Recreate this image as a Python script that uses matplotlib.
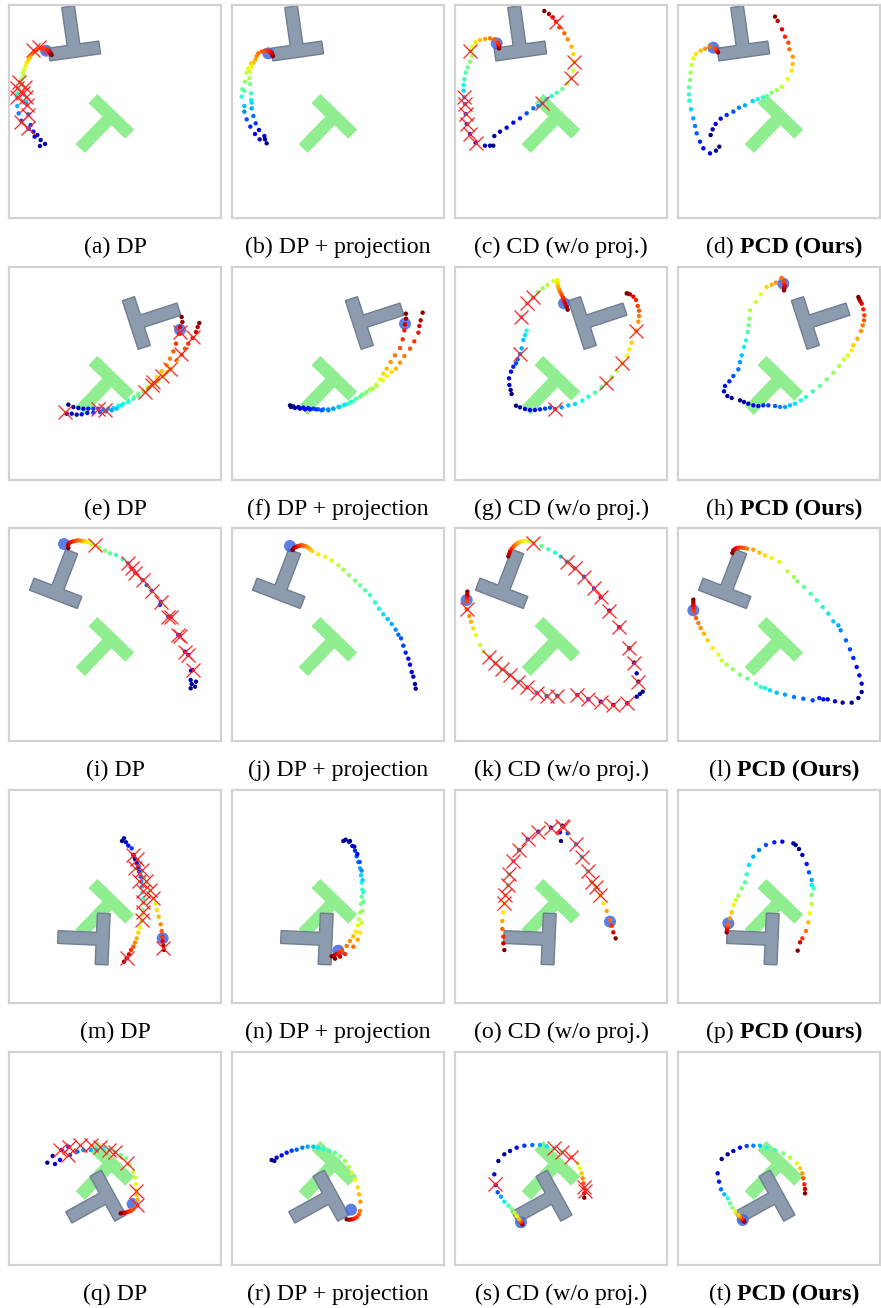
import numpy as np
import matplotlib
matplotlib.use('Agg')
import matplotlib.pyplot as plt
from matplotlib.patches import Polygon, Circle

# all coordinates are in panel units (3 units per output pixel), y pointing down
# T block poses: (centre of the bar x, y, direction of the stem in degrees)
green_pose = (307, 334, 134)
gray_poses = [(196, 138, 262), (382, 168, -18), (140, 196, -69), (281, 447, 182.5), (297, 431, 151)]

methods = ['DP', 'DP + projection', 'CD (w/o proj.)', 'PCD (Ours)']
letters = 'abcdefghijklmnopqrst'

# each path is a list of (colour at start, colour at end, points); colour 1 = dark red, 0 = dark blue
a_agent = (111, 137)
a_path = [(1.0, 0.0, [(128, 150), (125, 145), (122, 142), (119, 139), (116, 136), (113, 133), (103, 129), (93, 130),
                      (83, 135), (75, 141), (68, 148), (63, 157), (58, 165), (53, 173), (50, 183), (46, 193),
                      (41, 203), (45, 213), (37, 223), (33, 233), (41, 241), (28, 251), (48, 253), (25, 265),
                      (46, 270), (23, 275), (51, 290), (25, 303), (53, 298), (29, 325), (58, 328), (37, 347),
                      (65, 360), (59, 371), (73, 380), (77, 395), (85, 390), (95, 405), (108, 417), (93, 423)])]
a_cross = [(73, 135), (91, 125), (31, 230), (48, 247), (23, 250), (41, 263), (23, 275), (51, 275), (55, 300),
           (58, 330), (35, 350), (58, 370)]

b_agent = (109, 145)
b_path = [(1.0, 0.0, [(123, 153), (121, 150), (119, 146), (117, 143), (113, 140), (109, 137), (99, 137), (89, 140),
                      (79, 145), (74, 153), (71, 163), (64, 173), (57, 175), (59, 185), (49, 190), (54, 200),
                      (44, 203), (52, 220), (39, 230), (54, 237), (31, 253), (37, 257), (57, 265), (29, 275),
                      (57, 285), (59, 293), (37, 303), (59, 310), (37, 320), (64, 333), (44, 343), (71, 355),
                      (55, 365), (81, 375), (69, 387), (97, 393), (83, 403), (99, 403), (104, 415)])]
b_cross = []

c_agent = (125, 115)
c_path = [(1.0, 0.0, [(132, 130), (132, 126), (131, 122), (130, 117), (128, 113), (118, 103), (105, 100), (90, 102),
                      (75, 105), (62, 112), (52, 125), (48, 137), (52, 153), (45, 170), (38, 187), (32, 203),
                      (28, 223), (26, 240), (26, 257), (28, 277), (30, 297), (32, 327), (35, 357), (45, 387),
                      (62, 413), (90, 422), (105, 422), (115, 422)]),
          (0.0, 1.0, [(118, 393), (135, 380), (155, 368), (175, 353), (195, 340), (215, 325), (235, 310), (250, 303),
                      (262, 295), (275, 282), (290, 273), (305, 263), (322, 252), (338, 235), (348, 218), (355, 197),
                      (358, 170), (355, 147), (350, 125), (338, 103), (328, 85), (313, 67), (303, 50), (293, 37),
                      (282, 27), (268, 18)])]
c_cross = [(45, 137), (28, 277), (30, 297), (32, 327), (35, 357), (45, 387), (62, 413), (262, 295), (348, 218),
           (358, 170), (303, 50)]

d_agent = (106, 128)
d_path = [(1.0, 0.0, [(120, 142), (118, 138), (116, 135), (113, 132), (111, 130), (96, 125), (81, 131), (68, 137),
                      (54, 147), (46, 160), (41, 180), (38, 203), (36, 225), (33, 247), (33, 268), (34, 287),
                      (39, 313), (46, 340), (51, 363), (56, 385), (66, 410), (76, 430), (96, 445), (114, 437),
                      (124, 425)]),
          (0.0, 1.0, [(98, 390), (104, 373), (113, 357), (128, 341), (146, 330), (166, 320), (183, 308), (201, 301),
                      (224, 288), (239, 282), (254, 277), (266, 273), (281, 263), (296, 255), (311, 245), (329, 222),
                      (341, 197), (344, 177), (344, 155), (334, 133), (331, 113), (321, 95), (312, 73), (299, 48),
                      (291, 35)])]
d_cross = []

e_agent = (513, 188)
e_path = [(1.0, 0.0, [(518, 150), (520, 165), (513, 180), (511, 200), (501, 230), (493, 253), (483, 275), (473, 295),
                      (458, 313), (443, 330), (428, 347), (415, 360), (403, 370), (388, 380), (375, 390), (358, 400),
                      (343, 410), (328, 417), (313, 423), (298, 425), (283, 427), (268, 425), (253, 425), (238, 425),
                      (223, 425), (208, 423), (193, 420), (178, 413)]),
          (1.0, 0.0, [(571, 168), (566, 180), (561, 195), (551, 213), (538, 230), (528, 245), (518, 263), (503, 280),
                      (485, 305), (473, 315), (461, 327), (448, 343), (433, 353), (418, 365), (405, 375), (388, 387),
                      (373, 395), (358, 405), (338, 415), (323, 425), (308, 430), (291, 433), (273, 435), (253, 437),
                      (235, 438), (218, 442), (203, 443), (188, 440), (173, 440)])]
e_cross = [(513, 195), (551, 210), (515, 262), (483, 305), (460, 327), (433, 345), (428, 353), (408, 375), (288, 428),
           (266, 425), (168, 435)]

f_agent = (519, 170)
f_path = [(1.0, 0.0, [(522, 140), (522, 155), (519, 172), (517, 190), (512, 217), (504, 243), (489, 265), (476, 285),
                      (464, 305), (454, 320), (444, 337), (432, 353), (414, 367), (399, 380), (384, 390), (364, 403),
                      (349, 410), (334, 415), (319, 420), (304, 425), (289, 427), (274, 427), (259, 427), (244, 425),
                      (229, 423), (214, 422), (199, 420), (184, 418), (174, 415)]),
          (1.0, 0.0, [(572, 137), (566, 160), (562, 177), (559, 197), (547, 223), (534, 245), (517, 267), (504, 287),
                      (492, 305), (479, 315), (464, 327), (452, 340), (434, 357), (422, 365), (404, 375), (389, 383),
                      (372, 395), (356, 405), (339, 413), (322, 420), (304, 425), (289, 430), (269, 430), (252, 427),
                      (234, 427), (219, 427), (204, 425), (189, 423), (177, 420)])]
f_cross = []

g_agent = (327, 109)
g_path = [(1.0, 0.0, [(338, 128), (335, 119), (331, 110), (327, 101), (324, 92), (320, 84), (316, 76), (313, 69),
                      (310, 61), (308, 54), (307, 46), (307, 39), (295, 42), (277, 54), (263, 64), (248, 76),
                      (233, 91), (215, 109), (198, 149), (215, 191), (210, 204), (205, 219), (200, 244), (195, 261),
                      (188, 277), (183, 289), (175, 299), (168, 314), (162, 334), (163, 354), (167, 369), (170, 381)]),
          (0.0, 1.0, [(183, 416), (195, 421), (210, 426), (225, 429), (240, 429), (255, 427), (270, 425), (285, 422),
                      (300, 426), (320, 421), (340, 415), (360, 411), (382, 401), (400, 389), (420, 377), (440, 361),
                      (453, 349), (470, 331), (485, 311), (502, 289), (515, 266), (523, 247), (530, 227), (543, 191),
                      (550, 164), (552, 147), (552, 131), (548, 117), (543, 99), (535, 89), (525, 82), (520, 80),
                      (515, 79)])]
g_cross = [(233, 91), (215, 109), (198, 149), (195, 261), (300, 426), (453, 349), (502, 289), (543, 191)]

h_agent = (316, 50)
h_path = [(1.0, 0.0, [(318, 70), (319, 63), (320, 57), (319, 50), (318, 43), (311, 33), (294, 47), (281, 53),
                      (266, 60), (248, 82), (234, 105), (216, 130), (214, 155), (212, 175), (209, 195), (204, 220),
                      (198, 240), (191, 265), (186, 285), (181, 307), (166, 327), (154, 343), (141, 357), (138, 373),
                      (148, 387), (161, 393)]),
          (0.0, 1.0, [(186, 400), (198, 405), (211, 410), (226, 415), (241, 417), (256, 415), (271, 415), (291, 417),
                      (306, 420), (321, 420), (336, 415), (351, 410), (368, 400), (384, 390), (404, 373), (426, 357),
                      (446, 337), (466, 317), (483, 297), (498, 277), (509, 265), (521, 250), (526, 235), (538, 215),
                      (549, 192), (554, 175), (558, 160), (559, 145), (556, 127), (551, 110), (547, 103), (544, 97),
                      (541, 90)])]
h_cross = []

i_agent = (165, 48)
i_path = [(1.0, 0.4, [(178, 60), (177, 52), (180, 46), (186, 42), (193, 40), (201, 38), (208, 37), (215, 38),
                      (222, 39), (228, 40), (235, 42), (241, 44), (247, 47), (253, 51), (271, 59), (288, 68),
                      (303, 76), (321, 81), (341, 94)]),
          (0.3, 0.0, [(358, 106), (368, 121), (378, 134), (401, 156), (413, 171), (428, 188), (455, 221), (453, 231),
                      (478, 266), (485, 266), (508, 321), (513, 324), (528, 371), (538, 381), (551, 426), (546, 428),
                      (545, 456), (561, 461), (548, 468), (558, 476), (545, 481)])]
i_cross = [(258, 51), (358, 106), (368, 121), (378, 134), (401, 156), (428, 188), (455, 221), (478, 266), (485, 266),
           (508, 321), (513, 324), (528, 371), (538, 381), (551, 426)]

j_agent = (174, 54)
j_path = [(1.0, 0.0, [(182, 66), (186, 60), (190, 58), (194, 56), (199, 54), (204, 53), (209, 52), (214, 53),
                      (219, 54), (224, 56), (230, 60), (235, 64), (241, 69), (259, 79), (279, 86), (299, 97),
                      (319, 112), (334, 125), (351, 141), (369, 158), (384, 172), (399, 187), (414, 201), (429, 223),
                      (441, 242), (454, 259), (467, 273), (479, 288), (491, 305), (499, 320), (507, 331), (514, 353),
                      (521, 374), (529, 392), (534, 410), (539, 432), (544, 446), (549, 468), (551, 482)])]
j_cross = []

k_agent = (35, 216)
k_path = [(1.0, 0.55, [(37, 191), (37, 198), (37, 206), (36, 213), (35, 221), (35, 244), (43, 264), (48, 281),
                       (55, 301), (63, 321), (75, 351), (87, 371)]),
          (0.45, 0.0, [(103, 386), (120, 404), (140, 424), (165, 441), (190, 461), (217, 478), (245, 494), (275, 504),
                       (307, 504), (367, 501), (400, 514), (437, 521), (475, 531), (517, 526), (545, 506), (555, 498),
                       (563, 491)]),
          (1.0, 0.35, [(160, 85), (163, 77), (165, 70), (170, 62), (176, 55), (182, 50), (188, 45), (195, 41),
                       (205, 39), (217, 38), (226, 40), (235, 44), (260, 54), (280, 64), (300, 74), (317, 86)]),
          (0.3, 0.0, [(335, 101), (360, 121), (387, 146), (417, 181), (437, 208), (463, 248), (493, 298), (523, 361),
                      (537, 404), (545, 436), (550, 461)])]
k_cross = [(35, 244), (103, 386), (120, 404), (140, 424), (165, 441), (190, 461), (217, 478), (245, 494), (275, 504),
           (307, 504), (367, 501), (400, 514), (437, 521), (475, 531), (517, 526), (550, 461), (537, 404), (523, 361),
           (493, 298), (463, 248), (437, 208), (417, 181), (387, 146), (360, 121), (335, 101), (235, 44)]

l_agent = (46, 247)
l_path = [(1.0, 0.0, [(46, 215), (46, 222), (46, 228), (46, 234), (47, 242), (48, 250), (54, 270), (61, 285),
                      (68, 300), (78, 317), (89, 337), (104, 360), (121, 380), (131, 397), (146, 410), (164, 424),
                      (186, 440), (208, 452), (234, 467), (248, 477), (261, 480), (276, 487), (296, 494), (321, 500),
                      (348, 507), (376, 512), (404, 517), (424, 510), (436, 514), (449, 514), (471, 520), (494, 524),
                      (521, 524)]),
          (1.0, 0.0, [(163, 75), (166, 67), (171, 63), (176, 60), (183, 59), (191, 59), (199, 60), (208, 62),
                      (226, 65), (244, 74), (261, 82), (281, 90), (304, 102), (328, 130), (348, 147), (358, 160),
                      (378, 177), (398, 197), (416, 217), (434, 237), (451, 257), (466, 280), (481, 292), (488, 307),
                      (504, 337), (516, 364), (526, 390), (536, 417), (544, 442), (551, 467), (551, 492), (541, 510)])]
l_cross = []

m_agent = (461, 445)
m_path = [(1.0, 0.0, [(465, 480), (463, 467), (461, 453), (460, 440), (458, 423), (455, 403), (449, 380), (443, 360),
                      (439, 341), (433, 325), (423, 303), (413, 277), (405, 263), (398, 245), (391, 230), (383, 215),
                      (375, 200), (368, 175), (358, 167), (351, 157), (345, 145), (339, 153)]),
          (1.0, 0.0, [(345, 515), (353, 505), (360, 493), (366, 480), (373, 470), (378, 458), (383, 445), (388, 428),
                      (393, 413), (398, 393), (400, 375), (401, 360), (403, 340), (403, 325), (401, 307), (399, 290),
                      (397, 275), (395, 260), (391, 245), (387, 233), (383, 220), (378, 207), (373, 195)])]
m_cross = [(371, 195), (385, 207), (378, 233), (398, 240), (391, 273), (411, 273), (401, 303), (423, 300), (433, 323),
           (401, 335), (401, 365), (398, 390), (353, 503), (463, 475)]

n_agent = (319, 482)
n_path = [(1.0, 0.0, [(299, 499), (306, 496), (314, 492), (321, 488), (329, 482), (344, 468), (354, 453), (364, 439),
                      (372, 425), (377, 406), (381, 388), (384, 368), (387, 342), (389, 320), (391, 299), (389, 278),
                      (387, 256), (384, 235), (379, 216), (374, 199), (369, 182), (361, 168), (351, 156), (341, 149),
                      (334, 153)]),
          (1.0, 0.0, [(309, 506), (324, 500), (339, 492), (364, 470), (377, 449), (384, 428), (389, 399), (391, 363),
                      (394, 335), (394, 306), (392, 270), (389, 242), (383, 216), (376, 192), (367, 170), (354, 153)])]
n_cross = []

o_agent = (465, 395)
o_path = [(1.0, 0.0, [(482, 445), (475, 427), (470, 407), (465, 390), (455, 363), (445, 340), (435, 315), (422, 290),
                      (410, 275), (398, 243), (380, 200), (363, 163), (338, 130), (325, 110), (315, 127), (318, 153)]),
          (1.0, 0.0, [(148, 480), (145, 460), (145, 440), (142, 417), (142, 393), (145, 367), (148, 340), (150, 315),
                      (158, 285), (163, 253), (175, 213), (192, 180), (218, 148), (250, 125), (288, 113), (322, 107)])]
o_cross = [(435, 315), (422, 290), (410, 275), (398, 243), (380, 200), (363, 163), (325, 110), (148, 340), (150, 315),
           (158, 285), (163, 253), (175, 213), (192, 180), (218, 148), (250, 125), (288, 113), (322, 107)]

p_agent = (151, 400)
p_path = [(1.0, 0.0, [(146, 427), (147, 421), (147, 415), (149, 409), (151, 403), (156, 385), (161, 367), (167, 345),
                      (173, 330), (181, 317), (191, 295), (201, 277), (206, 253), (213, 225), (226, 200), (243, 180),
                      (264, 165), (289, 157), (313, 155), (346, 160), (353, 165)]),
          (0.0, 1.0, [(363, 177), (373, 195), (386, 222), (393, 247), (401, 270), (401, 285), (407, 295), (401, 315),
                      (401, 342), (396, 370), (391, 397), (384, 423), (373, 445), (366, 457), (359, 482)])]
p_cross = []

q_agent = (371, 456)
q_path = [(1.0, 0.0, [(335, 484), (342, 483), (348, 482), (355, 480), (361, 478), (367, 475), (373, 471), (383, 462),
                      (385, 444), (383, 429), (383, 414), (381, 396), (378, 376), (373, 359), (363, 339), (351, 319),
                      (335, 309), (318, 299), (301, 294), (283, 289), (263, 294), (245, 294), (223, 294), (205, 299),
                      (183, 309), (178, 284), (158, 294), (153, 324), (138, 336), (131, 312), (115, 332)])]
q_cross = [(153, 294), (181, 284), (178, 309), (213, 279), (245, 279), (273, 284), (301, 294), (318, 299), (353, 334),
           (381, 416), (385, 459)]

r_agent = (357, 473)
r_path = [(1.0, 0.0, [(344, 502), (352, 503), (359, 502), (367, 500), (374, 496), (380, 488), (384, 477), (385, 449),
                      (381, 427), (377, 406), (369, 384), (359, 363), (351, 344), (339, 327), (324, 313), (309, 302),
                      (291, 296), (274, 292), (259, 287), (244, 284), (227, 284), (211, 287), (194, 293), (179, 296),
                      (164, 302), (149, 310), (134, 317), (127, 327), (119, 324)])]
r_cross = []

s_agent = (198, 511)
s_path = [(1.0, 0.0, [(202, 517), (200, 513), (198, 509), (195, 505), (192, 501), (185, 492), (178, 482), (170, 471),
                      (160, 461), (148, 449), (138, 434), (128, 421), (122, 399), (118, 367), (130, 327)]),
          (0.0, 1.0, [(148, 307), (165, 297), (185, 287), (208, 281), (232, 279), (255, 279), (275, 283), (298, 289),
                      (322, 299), (348, 314), (368, 334), (375, 349), (380, 364), (383, 379), (385, 394), (388, 409),
                      (388, 424), (388, 437)])]
s_cross = [(120, 397), (298, 289), (322, 299), (348, 314), (388, 404), (390, 417)]

t_agent = (194, 504)
t_path = [(1.0, 0.0, [(199, 509), (195, 504), (191, 499), (186, 494), (181, 489), (171, 479), (163, 467), (156, 454),
                      (149, 439), (139, 427), (129, 412), (123, 389), (119, 364), (131, 321)]),
          (0.0, 1.0, [(149, 307), (166, 297), (186, 287), (206, 282), (226, 281), (246, 281), (266, 287), (291, 294),
                      (316, 304), (336, 317), (356, 334), (366, 349), (373, 364), (376, 379), (379, 397), (381, 411),
                      (381, 424)])]
t_cross = []

panels = [
    (a_agent, a_path, a_cross), (b_agent, b_path, b_cross), (c_agent, c_path, c_cross), (d_agent, d_path, d_cross),
    (e_agent, e_path, e_cross), (f_agent, f_path, f_cross), (g_agent, g_path, g_cross), (h_agent, h_path, h_cross),
    (i_agent, i_path, i_cross), (j_agent, j_path, j_cross), (k_agent, k_path, k_cross), (l_agent, l_path, l_cross),
    (m_agent, m_path, m_cross), (n_agent, n_path, n_cross), (o_agent, o_path, o_cross), (p_agent, p_path, p_cross),
    (q_agent, q_path, q_cross), (r_agent, r_path, r_cross), (s_agent, s_path, s_cross), (t_agent, t_path, t_cross),
]

W, H = 881, 1308
fig = plt.figure(figsize=(W / 100, H / 100), dpi=100)
serif = 'Liberation Serif'
fs = 17.2

col_x = [9, 232, 455, 678]
col_w = [212, 212, 212, 202]
row_y = [5, 267, 528, 790, 1052]
ph = 213
S = 38.4  # width of the T bar


def tee(pose):
    cx, cy, ang = pose
    a = np.radians(ang)
    d = np.array([np.cos(a), np.sin(a)])
    p = np.array([-np.sin(a), np.cos(a)])
    shape = [(-2, -0.5), (2, -0.5), (2, 0.5), (0.5, 0.5), (0.5, 3.5), (-0.5, 3.5), (-0.5, 0.5), (-2, 0.5)]
    return [np.array([cx, cy]) + S * (u * p + v * d) for u, v in shape]


renderer = fig.canvas.get_renderer()
for k, (agent, path, cross) in enumerate(panels):
    r, c = divmod(k, 4)
    x0, y0, w = col_x[c], row_y[r], col_w[c]
    ax = fig.add_axes([x0 / W, 1 - (y0 + ph) / H, w / W, ph / H])
    ax.set_xlim(0, w * 3)
    ax.set_ylim(ph * 3, 0)
    ax.set_xticks([])
    ax.set_yticks([])
    for sp in ax.spines.values():
        sp.set_color('#d2d2d2')
        sp.set_linewidth(1.6)

    ax.add_patch(Polygon(tee(green_pose), closed=True, facecolor='#90ee90', edgecolor='none', zorder=1))
    ax.add_patch(Polygon(tee(gray_poses[r]), closed=True, facecolor='#8c9bae', edgecolor='#6f7e92',
                         linewidth=1.0, zorder=2))
    ax.add_patch(Circle(agent, 18, facecolor='#4169e1', edgecolor='none', alpha=0.85, zorder=3))

    for c0, c1, pts in path:
        pts = np.array(pts)
        ax.scatter(pts[:, 0], pts[:, 1], c=np.linspace(c0, c1, len(pts)), cmap='jet', vmin=0, vmax=1,
                   s=10, linewidths=0, zorder=4)
    if cross:
        cr = np.array(cross)
        ax.plot(cr[:, 0], cr[:, 1], 'x', color='#ff2222', ms=9.5, mew=0.9, zorder=5)

    # caption under the panel
    cx = col_x[c] + 106
    cy = row_y[r] + 242
    yf = 1 - cy / H
    if c < 3:
        fig.text(cx / W, yf, '(%s) %s' % (letters[k], methods[c]), ha='center', va='center',
                 fontsize=fs, family=serif)
    else:
        t1 = fig.text(0, yf, '(%s)' % letters[k], va='center', fontsize=fs, family=serif)
        t2 = fig.text(0, yf, methods[c], va='center', fontsize=fs, family=serif, fontweight='bold')
        w1 = t1.get_window_extent(renderer).width
        w2 = t2.get_window_extent(renderer).width
        gap = 0.25 * fs * 100 / 72
        xs = cx - (w1 + gap + w2) / 2
        t1.set_x(xs / W)
        t2.set_x((xs + w1 + gap) / W)

fig.savefig('out.png', dpi=100)
